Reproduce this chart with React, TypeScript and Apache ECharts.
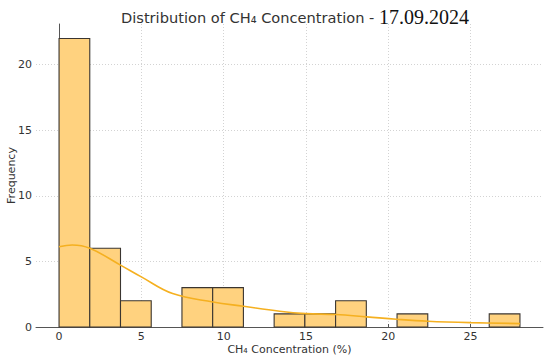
import React, { useEffect, useRef } from "react";
import * as echarts from "echarts";

const BIN_MIN = 0;
const BIN_MAX = 28;
const binCounts = [22, 6, 2, 0, 3, 3, 0, 1, 1, 2, 0, 1, 0, 0, 1];
const kdeX = [0, 0.8, 1.87, 3.73, 5.0, 6.9, 9.35, 11.2, 13.4, 15.0, 16.8, 18.7, 20.5, 22.4, 25.0, 28.0];
const kdeY = [6.12, 6.25, 6.0, 4.72, 3.82, 2.55, 1.91, 1.58, 1.2, 1.02, 0.95, 0.77, 0.59, 0.44, 0.33, 0.26];
const xTicks = [0, 5, 10, 15, 20, 25];
const yTicks = [0, 5, 10, 15, 20];

export default function App() {
  const ref = useRef<HTMLDivElement>(null);
  useEffect(() => {
    if (!ref.current) return;
    const chart = echarts.init(ref.current, null, { renderer: "svg" });
    const width = (BIN_MAX - BIN_MIN) / binCounts.length;
    const bars = binCounts.map((c, i) => [BIN_MIN + i * width, BIN_MIN + (i + 1) * width, c]);
    const sans = "DejaVu Sans";
    chart.setOption({
      animation: false,
      title: {
        left: 116,
        top: 2,
        text: "{a|Distribution of CH₄ Concentration - }{b|17.09.2024}",
        textStyle: {
          fontWeight: "normal",
          rich: {
            a: { fontFamily: sans, fontSize: 14.6, fontWeight: "normal", color: "#333" },
            b: { fontFamily: "Liberation Serif", fontSize: 20, fontWeight: "normal", color: "#111" },
          },
        },
      },
      grid: { left: 36, right: 7, top: 24, bottom: 32, outerBoundsMode: "none", containLabel: false },
      xAxis: {
        type: "value",
        min: -1.4,
        max: 29.4,
        name: "CH₄ Concentration (%)",
        nameLocation: "middle",
        nameGap: 17,
        nameMoveOverlap: false,
        nameTextStyle: { fontFamily: sans, fontSize: 11, color: "#333" },
        axisLine: { show: true, lineStyle: { color: "#555", width: 1 } },
        axisTick: { show: true, inside: true, length: 3, customValues: xTicks, lineStyle: { color: "#555" } },
        axisLabel: { customValues: xTicks, fontFamily: sans, fontSize: 11, color: "#333", margin: 4 },
        splitLine: { show: true, lineStyle: { type: [1, 2], color: "#c8c8c8", width: 0.8 } },
      },
      yAxis: {
        type: "value",
        min: 0,
        max: 23.1,
        name: "Frequency",
        nameLocation: "middle",
        nameGap: 19,
        nameMoveOverlap: false,
        nameTextStyle: { fontFamily: sans, fontSize: 11, color: "#333" },
        axisLine: { show: true, lineStyle: { color: "#555", width: 1 } },
        axisTick: { show: false, customValues: yTicks },
        axisLabel: { customValues: yTicks, fontFamily: sans, fontSize: 11, color: "#333", margin: 4 },
        splitLine: { show: true, lineStyle: { type: [1, 2], color: "#c8c8c8", width: 0.8 } },
      },
      series: [
        {
          type: "custom",
          data: bars,
          encode: { x: [0, 1], y: 2 },
          renderItem: (params: any, api: any) => {
            const c = api.value(2);
            if (!c) return null;
            const p0 = api.coord([api.value(0), c]);
            const p1 = api.coord([api.value(1), 0]);
            return {
              type: "rect",
              shape: { x: p0[0], y: p0[1], width: p1[0] - p0[0], height: p1[1] - p0[1] },
              style: { fill: "#FFD27F", stroke: "#3a3530", lineWidth: 1.1 },
            };
          },
          z: 2,
        },
        {
          type: "line",
          data: kdeX.map((x, i) => [x, kdeY[i]]),
          smooth: 0.4,
          showSymbol: false,
          lineStyle: { color: "#F5B020", width: 1.6 },
          z: 3,
        },
      ],
    });
    return () => chart.dispose();
  }, []);
  return <div ref={ref} style={{ position: "absolute", left: 0, top: 0, width: 550, height: 359 }} />;
}
